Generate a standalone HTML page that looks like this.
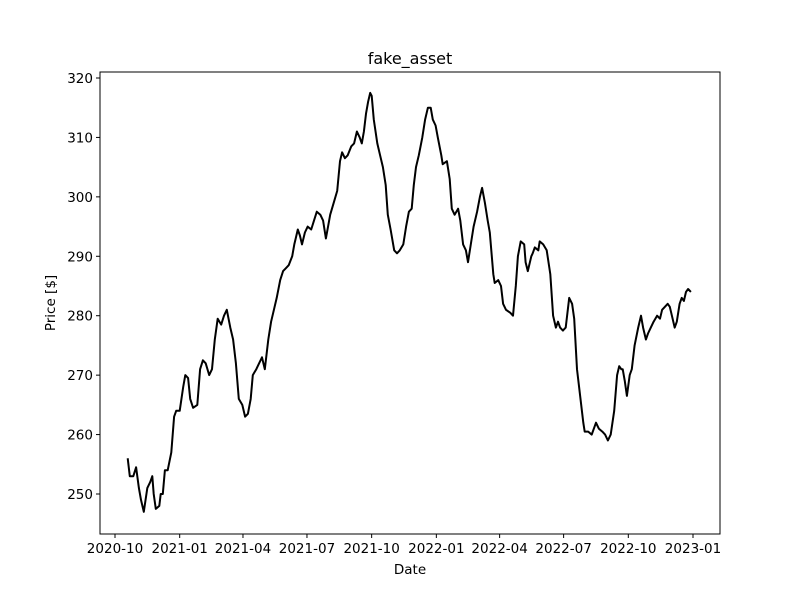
<!DOCTYPE html>
<html><head><meta charset="utf-8"><style>
body{margin:0;background:#fff}
svg{display:block;font-family:"DejaVu Sans","Liberation Sans",sans-serif}
</style></head><body>
<svg id="chart" width="800" height="600">
<rect width="800" height="600" fill="#fff"/>
<text x="410" y="64" text-anchor="middle" font-size="16">fake_asset</text>
<text x="410" y="574" text-anchor="middle" font-size="13.5">Date</text>
<text transform="translate(55,303) rotate(-90)" text-anchor="middle" font-size="13.5">Price [$]</text>
<g id="xticks"></g>
<g id="yticks"></g>
<polyline id="line" fill="none" stroke="#000" stroke-width="2" stroke-linejoin="round"/>
<rect x="100" y="72" width="620" height="462" fill="none" stroke="#000" stroke-width="1"/>
</svg>
<script>
const startDate = "2020-10-01";
const xTickLabels = ["2020-10","2021-01","2021-04","2021-07","2021-10","2022-01","2022-04","2022-07","2022-10","2023-01"];
const xTickDays = [0,92,182,273,365,457,547,638,730,822];
const yTickValues = [250,260,270,280,290,300,310,320];
const dayOffsets = [18,21,26,30,34,37,41,46,50,53,55,58,63,65,68,71,75,80,84,87,92,97,100,104,107,111,117,121,125,129,134,138,142,146,151,155,159,164,168,172,176,181,185,189,193,196,201,205,209,213,218,222,226,230,235,239,243,247,252,255,257,260,263,266,270,274,279,283,287,292,296,300,306,311,316,320,323,327,331,336,340,344,348,351,354,357,360,363,365,368,373,377,381,385,388,392,397,401,405,410,414,418,422,425,428,432,437,441,445,449,452,456,459,464,466,472,476,479,483,488,491,495,499,502,506,510,515,519,522,526,530,533,538,540,545,549,552,556,562,566,570,573,577,582,584,587,592,594,597,602,604,609,614,619,623,627,630,633,637,641,646,650,653,657,661,666,668,673,678,684,688,693,697,701,705,710,714,717,720,722,725,728,732,735,739,744,748,751,755,758,762,766,771,775,778,782,786,789,792,796,799,803,806,809,812,815,819];
const prices = [256,253,253,254.5,251,249,247,251,252,253,250,247.5,248,250,250,254,254,257,263,264,264,268,270,269.5,266,264.5,265,271,272.5,272,270,271,276,279.5,278.5,280,281,278,276,272,266,265,263,263.5,266,270,271,272,273,271,276,279,281,283,286,287.5,288,288.5,290,292,293,294.5,293.5,292,294,295,294.5,296,297.5,297,296,293,297,299,301,306,307.5,306.5,307,308.5,309,311,310,309,311,314,316,317.5,317,313,309,307,305,302,297,294.5,291,290.5,291,292,295,297.5,298,302,305,307,310,313,315,315,313,312,310,307,305.5,306,303,298,297,298,296,292,291,289,292,295,297.5,300,301.5,299,296,294,287,285.5,286,285,282,281,280.5,280,285,290,292.5,292,289,287.5,290,290.5,291.5,291,292.5,292,291,287,280,278,279,278,277.5,278,283,282,279.5,271,267,262,260.5,260.5,260,262,261,260.5,260,259,260,264,270,271.5,271,271,269,266.5,270,271,275,278,280,278,276,277,278,279,280,279.5,281,281.5,282,281.5,280,278,279,282,283,282.5,284,284.5,284];

const X0=100,X1=720,Y0=72,Y1=534;
const xScale = d => 115 + d*(578/822);
const yScale = v => 494 - (v-250)*(416/70);
const NS="http://www.w3.org/2000/svg";
const xg=document.getElementById('xticks'), yg=document.getElementById('yticks');
xTickDays.forEach((d,i)=>{
  const x=xScale(d);
  const t=document.createElementNS(NS,'line');
  t.setAttribute('x1',x);t.setAttribute('x2',x);t.setAttribute('y1',Y1);t.setAttribute('y2',Y1+4);
  t.setAttribute('stroke','#000');
  
  
  xg.appendChild(t);
  const l=document.createElementNS(NS,'text');
  l.setAttribute('x',x);l.setAttribute('y',Y1+19);l.setAttribute('text-anchor','middle');l.setAttribute('font-size','13.5');
  l.textContent=xTickLabels[i];
  
  
  xg.appendChild(l);
});
yTickValues.forEach(v=>{
  const y=yScale(v);
  const t=document.createElementNS(NS,'line');
  t.setAttribute('x1',X0-4);t.setAttribute('x2',X0);t.setAttribute('y1',y);t.setAttribute('y2',y);
  t.setAttribute('stroke','#000');
  
  
  yg.appendChild(t);
  const l=document.createElementNS(NS,'text');
  l.setAttribute('x',X0-7);l.setAttribute('y',y+5);l.setAttribute('text-anchor','end');l.setAttribute('font-size','13.5');
  l.textContent=v;
  
  
  yg.appendChild(l);
});
document.getElementById('line').setAttribute('points',
  dayOffsets.map((d,i)=>xScale(d).toFixed(1)+','+yScale(prices[i]).toFixed(1)).join(' '));
</script>
</body></html>
